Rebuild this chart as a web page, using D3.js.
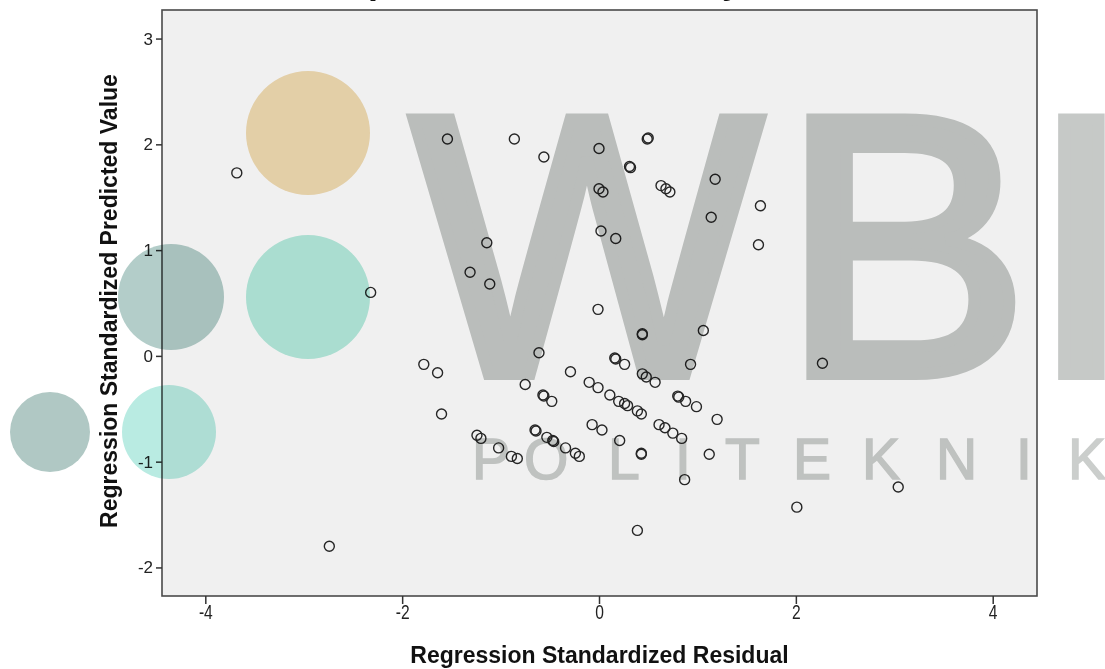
<!DOCTYPE html>
<html>
<head>
<meta charset="utf-8">
<script src="https://cdn.jsdelivr.net/npm/d3@7/dist/d3.min.js"></script>
<style>
    body{margin:0;background:#fff;}
    svg{display:block;}
</style>
</head>
<body>
<svg id="vis" width="1105" height="669"></svg>
<script>
/**
 * Call our functions on window load event
 */
window.onload = function(){
    setup();
};

/**
 * Data
 */
var residual = [
    -3.68, -2.32, -2.74, -1.54, -0.86, -0.56, 0.00, 0.49, 0.50, 0.32,
     0.31,  0.00,  0.04,  0.63,  0.68,  0.72, 1.18, 1.14, 1.64, 1.62,
     0.02,  0.17, -1.14, -1.31, -1.11, -0.01, 0.44, 0.44, 1.06, 2.27,
    -0.61, -1.78, -1.64, -1.60, -0.75, -0.29, -0.57, -0.56, -0.48, 0.16,
     0.17,  0.26, -0.10, -0.01,  0.44,  0.48, 0.57, 0.93, 0.11, 0.20,
     0.26,  0.29,  0.39,  0.43,  0.80,  0.81, 0.88, 0.99, 1.20, -1.24,
    -1.20, -1.02, -0.89, -0.83, -0.65, -0.64, -0.53, -0.47, -0.46, -0.34,
    -0.24, -0.20, -0.07,  0.03,  0.21,  0.43, 0.43, 0.61, 0.67, 0.75,
     0.84,  1.12,  0.87,  0.39,  2.01,  3.04];
var predicted = [
     1.73,  0.60, -1.80,  2.05,  2.05,  1.88, 1.96, 2.05, 2.06, 1.78,
     1.79,  1.58,  1.55,  1.61,  1.58,  1.55, 1.67, 1.31, 1.42, 1.05,
     1.18,  1.11,  1.07,  0.79,  0.68,  0.44, 0.21, 0.20, 0.24, -0.07,
     0.03, -0.08, -0.16, -0.55, -0.27, -0.15, -0.37, -0.38, -0.43, -0.02,
    -0.03, -0.08, -0.25, -0.30, -0.17, -0.20, -0.25, -0.08, -0.37, -0.43,
    -0.45, -0.47, -0.52, -0.55, -0.38, -0.39, -0.43, -0.48, -0.60, -0.75,
    -0.78, -0.87, -0.95, -0.97, -0.70, -0.71, -0.77, -0.80, -0.81, -0.87,
    -0.92, -0.95, -0.65, -0.70, -0.80, -0.93, -0.92, -0.65, -0.68, -0.73,
    -0.78, -0.93, -1.17, -1.65, -1.43, -1.24];

var xTicks = [-4, -2, 0, 2, 4];
var yTicks = [-2, -1, 0, 1, 2, 3];
var xDomain = [-4.44, 4.45];
var yDomain = [-2.27, 3.27];

var xTitle = "Regression Standardized Residual";
var yTitle = "Regression Standardized Predicted Value";
var chartTitle = "Dependent Variable: Loyalitas";

// watermark pasted over the chart (pixel space, not data)
var logoWord = "WBI";
var logoSub = "POLITEKNIK";
var logoDots = [
    {cx:308, cy:133, r:62, color:"#f2dcb2"},
    {cx:308, cy:297, r:62, color:"#b5ebdd"},
    {cx:171, cy:297, r:53, color:"#b3cdc9"},
    {cx:169, cy:432, r:47, color:"#b9ebe2"},
    {cx:50,  cy:432, r:40, color:"#b0c8c4"}
];

const MARGINS = {top:10, right:68, bottom:73, left:162};
const FONT = "'Liberation Sans', Arial, sans-serif";

var _vis;

var Scatterplot = function(){
    this.width = 1105;
    this.height = 669;
    this.svgContainer;
    this.xAxisScale;
    this.yAxisScale;

    this.setupScale = function(){
        this.xAxisScale = d3.scaleLinear().domain(xDomain).range([MARGINS.left, this.width - MARGINS.right]);
        this.yAxisScale = d3.scaleLinear().domain(yDomain).range([this.height - MARGINS.bottom, MARGINS.top]);
    }

    this.drawFrame = function(){
        //plot background with its border
        this.svgContainer.append("rect")
            .attr("x", MARGINS.left)
            .attr("y", MARGINS.top)
            .attr("width", this.width - MARGINS.left - MARGINS.right)
            .attr("height", this.height - MARGINS.top - MARGINS.bottom)
            .style("fill", "#f0f0f0")
            .style("stroke", "#4a4a4a")
            .style("stroke-width", 1.6);

        //title, only its descenders are left in the picture
        this.svgContainer.append("text")
            .attr("x", 322)
            .attr("y", -7.5)
            .style("font-family", FONT)
            .style("font-weight", "bold")
            .style("font-size", "36px")
            .style("fill", "#111")
            .text(chartTitle);
    }

    this.setupAxes = function(){
        var fmt = function(d){ return String(d); };   //plain hyphen, like SPSS

        var xAxis = d3.axisBottom(this.xAxisScale).tickValues(xTicks).tickSize(8).tickPadding(1).tickFormat(fmt);
        var gx = this.svgContainer.append("g")
            .attr("transform", `translate(0, ${this.height - MARGINS.bottom})`)
            .call(xAxis);
        gx.select(".domain").remove();
        gx.selectAll("line").style("stroke", "#333").style("stroke-width", 1.5);
        gx.selectAll("text")
            .style("font-family", FONT)
            .style("font-size", "20px")
            .style("fill", "#222")
            .attr("transform", "scale(0.78,1)");

        var yAxis = d3.axisLeft(this.yAxisScale).tickValues(yTicks).tickSize(6).tickPadding(3).tickFormat(fmt);
        var gy = this.svgContainer.append("g")
            .attr("transform", `translate(${MARGINS.left}, 0)`)
            .call(yAxis);
        gy.select(".domain").remove();
        gy.selectAll("line").style("stroke", "#333").style("stroke-width", 1.5);
        gy.selectAll("text")
            .style("font-family", FONT)
            .style("font-size", "17px")
            .style("fill", "#222");

        //x-axis label
        this.svgContainer.append("text")
            .attr("x", (MARGINS.left + this.width - MARGINS.right) / 2)
            .attr("y", 663)
            .style("text-anchor", "middle")
            .style("font-family", FONT)
            .style("font-weight", "bold")
            .style("font-size", "23px")
            .style("fill", "#111")
            .text(xTitle);

        //y-axis label
        this.svgContainer.append("text")
            .attr("transform", "translate(117, 301) rotate(-90)")
            .style("text-anchor", "middle")
            .style("font-family", FONT)
            .style("font-weight", "bold")
            .style("font-size", "23px")
            .style("fill", "#111")
            .text(yTitle);
    }

    this.createCircles = function(){
        var data = residual.map(function(d, i){ return {x:d, y:predicted[i]}; });
        this.svgContainer.append("g").selectAll("circle")
            .data(data)
            .enter()
            .append("circle")
            .attr("r", 5)
            .attr("cx", function(d){ return _vis.xAxisScale(d.x); })
            .attr("cy", function(d){ return _vis.yAxisScale(d.y); })
            .style("fill", "none")
            .style("stroke", "#262626")
            .style("stroke-width", 1.4);
    }

    this.drawWatermark = function(){
        var wm = this.svgContainer.append("g");

        wm.selectAll("circle")
            .data(logoDots)
            .enter()
            .append("circle")
            .attr("cx", function(d){ return d.cx; })
            .attr("cy", function(d){ return d.cy; })
            .attr("r", function(d){ return d.r; })
            .style("fill", function(d){ return d.color; })
            .style("mix-blend-mode", "multiply");

        //big letters, a regular face thickened by a stroke
        wm.append("text")
            .attr("x", "412 782 1030")
            .attr("y", 374)
            .style("font-family", FONT)
            .style("font-size", "370px")
            .style("fill", "#c6c9c7")
            .style("stroke", "#c6c9c7")
            .style("stroke-width", 12)
            .style("mix-blend-mode", "multiply")
            .text(logoWord);

        wm.append("text")
            .attr("x", "472 524 608 675 725 793 862 936 1016 1068")
            .attr("y", 479)
            .style("font-family", FONT)
            .style("font-size", "57px")
            .style("fill", "#cbcecc")
            .style("stroke", "#cbcecc")
            .style("stroke-width", 1.5)
            .style("mix-blend-mode", "multiply")
            .text(logoSub);
    }
}

function setup(){
    _vis = new Scatterplot();
    _vis.svgContainer = d3.select("#vis");
    _vis.setupScale();
    _vis.drawFrame();
    _vis.setupAxes();
    _vis.createCircles();
    _vis.drawWatermark();
}
</script>
</body>
</html>
